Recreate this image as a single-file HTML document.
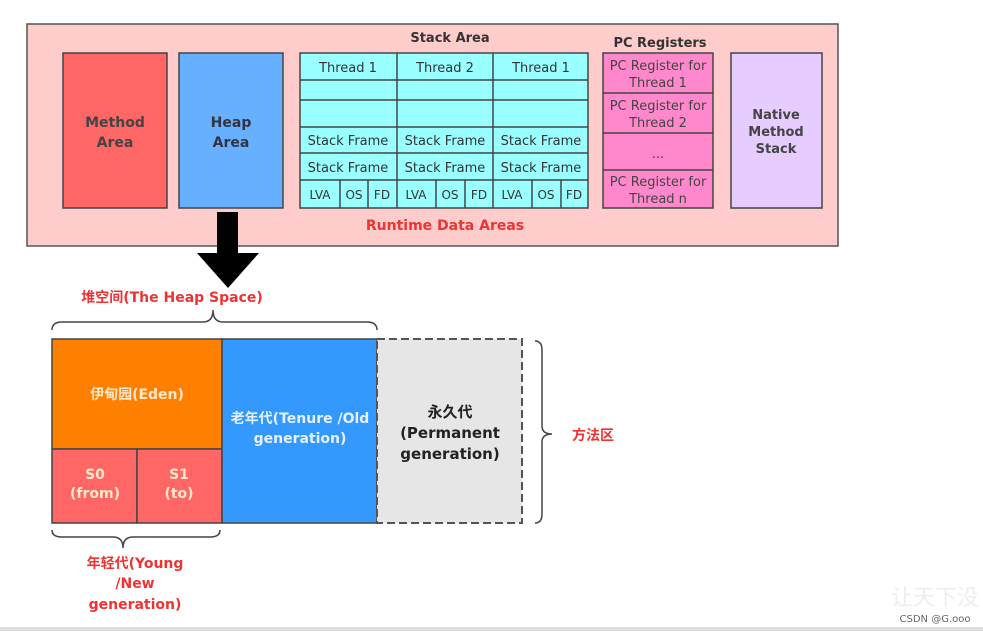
<!DOCTYPE html>
<html><head><meta charset="utf-8"><style>
html,body{margin:0;padding:0;background:#fff;}
svg{display:block;}
text{font-family:"DejaVu Sans","Liberation Sans","Noto Sans CJK SC",sans-serif;}
</style></head><body>
<svg width="983" height="631" viewBox="0 0 983 631" xmlns="http://www.w3.org/2000/svg">
<rect x="0" y="0" width="983" height="631" fill="#fff"/>
<rect x="27" y="24" width="811" height="222" fill="#ffcccc" stroke="#555" stroke-width="1.5"/>
<rect x="63" y="53" width="104" height="155" fill="#ff6666" stroke="#444" stroke-width="1.5"/>
<text x="115" y="127" text-anchor="middle" font-size="14" font-weight="bold" fill="#444">Method</text>
<text x="115" y="147" text-anchor="middle" font-size="14" font-weight="bold" fill="#444">Area</text>
<rect x="179" y="53" width="104" height="155" fill="#66b0ff" stroke="#444" stroke-width="1.5"/>
<text x="231" y="127" text-anchor="middle" font-size="14" font-weight="bold" fill="#334">Heap</text>
<text x="231" y="147" text-anchor="middle" font-size="14" font-weight="bold" fill="#334">Area</text>
<text x="450" y="42" text-anchor="middle" font-size="13" font-weight="bold" fill="#333">Stack Area</text>
<g stroke="#444" stroke-width="1.5" fill="#99ffff">
<rect x="300" y="53" width="288" height="155"/>
<line x1="300" y1="80" x2="588" y2="80"/><line x1="300" y1="100" x2="588" y2="100"/>
<line x1="300" y1="127" x2="588" y2="127"/><line x1="300" y1="153" x2="588" y2="153"/>
<line x1="300" y1="180" x2="588" y2="180"/>
<line x1="397" y1="53" x2="397" y2="208"/><line x1="493" y1="53" x2="493" y2="208"/>
<line x1="340" y1="180" x2="340" y2="208"/><line x1="368" y1="180" x2="368" y2="208"/>
<line x1="436" y1="180" x2="436" y2="208"/><line x1="465" y1="180" x2="465" y2="208"/>
<line x1="532" y1="180" x2="532" y2="208"/><line x1="561" y1="180" x2="561" y2="208"/>
</g>
<g font-size="13" fill="#333" text-anchor="middle">
<text x="348" y="72">Thread 1</text><text x="445" y="72">Thread 2</text><text x="541" y="72">Thread 1</text>
<text x="348" y="145">Stack Frame</text><text x="445" y="145">Stack Frame</text><text x="541" y="145">Stack Frame</text>
<text x="348" y="172">Stack Frame</text><text x="445" y="172">Stack Frame</text><text x="541" y="172">Stack Frame</text>
<text x="320" y="199" font-size="12">LVA</text><text x="354" y="199" font-size="12">OS</text><text x="382" y="199" font-size="12">FD</text>
<text x="416" y="199" font-size="12">LVA</text><text x="450" y="199" font-size="12">OS</text><text x="479" y="199" font-size="12">FD</text>
<text x="512" y="199" font-size="12">LVA</text><text x="546" y="199" font-size="12">OS</text><text x="574" y="199" font-size="12">FD</text>
</g>
<text x="660" y="47" text-anchor="middle" font-size="13" font-weight="bold" fill="#333">PC Registers</text>
<g stroke="#444" stroke-width="1.5" fill="#ff88cc">
<rect x="603" y="53" width="110" height="155"/>
<line x1="603" y1="93" x2="713" y2="93"/><line x1="603" y1="133" x2="713" y2="133"/><line x1="603" y1="170" x2="713" y2="170"/>
</g>
<g font-size="13" fill="#444" text-anchor="middle">
<text x="658" y="70">PC Register for</text><text x="658" y="87">Thread 1</text>
<text x="658" y="110">PC Register for</text><text x="658" y="127">Thread 2</text>
<text x="658" y="158">...</text>
<text x="658" y="186">PC Register for</text><text x="658" y="203">Thread n</text>
</g>
<rect x="731" y="53" width="91" height="155" fill="#e6ccff" stroke="#444" stroke-width="1.5"/>
<g font-size="13" font-weight="bold" fill="#444" text-anchor="middle">
<text x="776" y="119">Native</text><text x="776" y="136">Method</text><text x="776" y="153">Stack</text>
</g>
<text x="445" y="230" text-anchor="middle" font-size="14" font-weight="bold" fill="#ee3333">Runtime Data Areas</text>
<polygon points="217,212 238,212 238,253 259,253 228,288 197,253 217,253" fill="#000"/>
<text x="172" y="302" text-anchor="middle" font-size="14" font-weight="bold" fill="#ee3333">堆空间(The Heap Space)</text>
<path d="M52,330 Q52,322 62,322 L203,322 Q213,322 213,310 Q213,322 223,322 L367,322 Q377,322 377,330" fill="none" stroke="#444" stroke-width="1.5"/>
<rect x="52" y="339" width="170" height="110" fill="#ff8000" stroke="#444" stroke-width="1.5"/>
<rect x="52" y="449" width="85" height="74" fill="#ff6666" stroke="#444" stroke-width="1.5"/>
<rect x="137" y="449" width="85" height="74" fill="#ff6666" stroke="#444" stroke-width="1.5"/>
<rect x="222" y="339" width="155" height="184" fill="#3399ff" stroke="#444" stroke-width="1.5"/>
<rect x="377" y="339" width="145" height="184" fill="#e6e6e6" stroke="#555" stroke-width="2" stroke-dasharray="8,4"/>
<g font-size="14" font-weight="bold" fill="#ffe8cc" text-anchor="middle">
<text x="137" y="399">伊甸园(Eden)</text>
<text x="95" y="479">S0</text><text x="95" y="498">(from)</text>
<text x="179" y="479">S1</text><text x="179" y="498">(to)</text>
</g>
<g font-size="14" font-weight="bold" fill="#e6f0ff" text-anchor="middle">
<text x="300" y="423">老年代(Tenure /Old</text><text x="300" y="443">generation)</text>
</g>
<g font-size="15" font-weight="bold" fill="#222" text-anchor="middle">
<text x="450" y="417">永久代</text><text x="450" y="438">(Permanent</text><text x="450" y="459">generation)</text>
</g>
<path d="M535,341 Q542,341 542,350 L542,426 Q542,434 552,434 Q542,434 542,442 L542,514 Q542,523 535,523" fill="none" stroke="#444" stroke-width="1.5"/>
<text x="593" y="440" text-anchor="middle" font-size="14" font-weight="bold" fill="#ee3333">方法区</text>
<path d="M52,530 Q52,537 62,537 L113,537 Q123,537 123,548 Q123,537 133,537 L210,537 Q220,537 220,530" fill="none" stroke="#444" stroke-width="1.5"/>
<g font-size="14" font-weight="bold" fill="#ee3333" text-anchor="middle">
<text x="135" y="568">年轻代(Young</text><text x="135" y="588">/New</text><text x="135" y="609">generation)</text>
</g>
<text x="935" y="605" text-anchor="middle" font-size="22" fill="#eee" font-family="Noto Serif CJK SC,serif">让天下没</text>
<text x="935" y="622" text-anchor="middle" font-size="10" fill="#666">CSDN @G.ooo</text>
<rect x="0" y="627" width="983" height="4" fill="#ddd"/>
</svg>
</body></html>
